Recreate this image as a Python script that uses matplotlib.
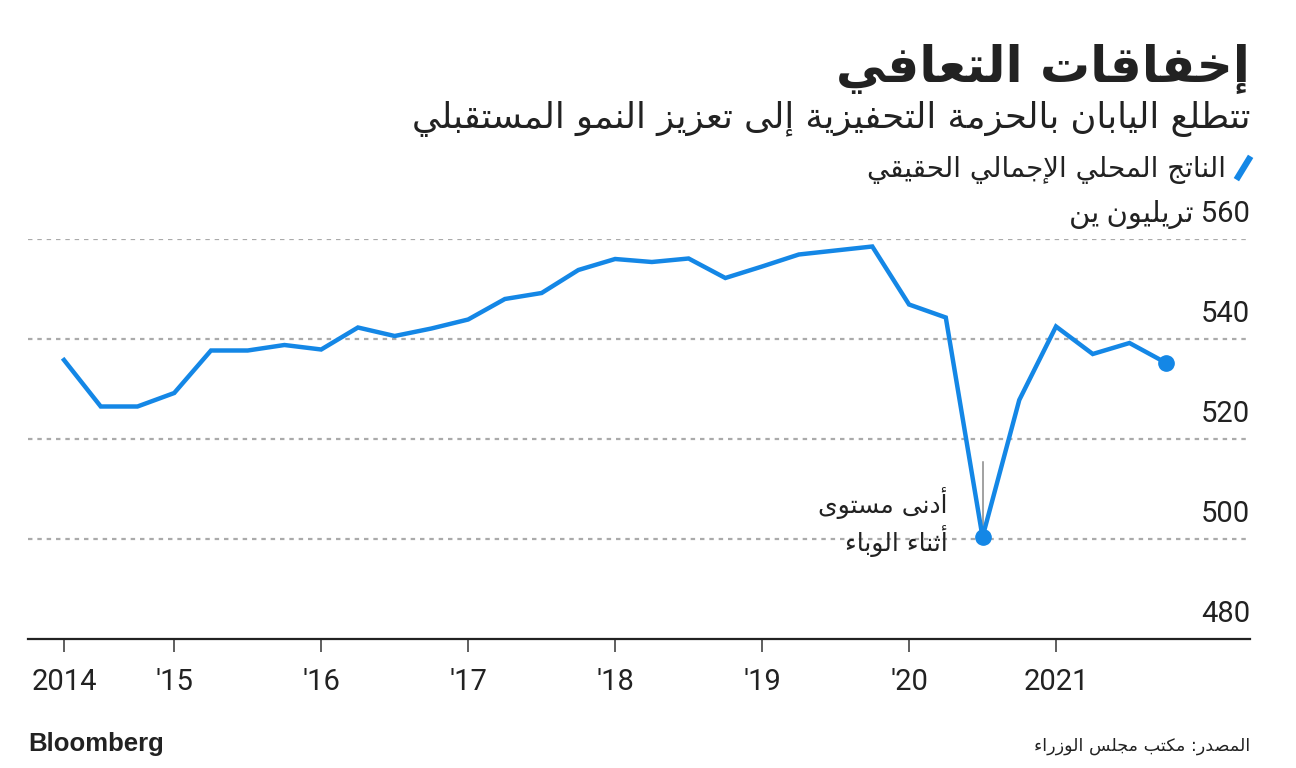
import re
import pandas as pd
import matplotlib
matplotlib.use("Agg")
import matplotlib.pyplot as plt

# real GDP, trillion yen, quarterly (plotted at quarter end)
quarters = pd.period_range("2014Q1", "2021Q3", freq="Q")
gdp = [535.8, 526.5, 526.5, 529.2, 537.7, 537.7, 538.8, 537.9,
       542.3, 540.6, 542.1, 543.9, 548.0, 549.2, 553.8, 556.0,
       555.4, 556.1, 552.2, 554.5, 556.9, 557.7, 558.5, 546.9,
       544.3, 500.4, 527.8, 542.5, 537.0, 539.2, 535.2]

xtick_pos = [2014.25, 2015, 2016, 2017, 2018, 2019, 2020, 2021]
xtick_labels = ["2014", "'15", "'16", "'17", "'18", "'19", "'20", "2021"]
yticks = [480, 500, 520, 540, 560]
ytick_labels = ["480", "500", "520", "540", "560 تريليون ين"]

title = "إخفاقات التعافي"
subtitle = "تتطلع اليابان بالحزمة التحفيزية إلى تعزيز النمو المستقبلي"
legend_label = "الناتج المحلي الإجمالي الحقيقي"
note_lines = ["أدنى مستوى", "أثناء الوباء"]
source = "المصدر: مكتب مجلس الوزراء"

BLUE = "#1487e6"
DARK = "#222222"
GRID = "#aaaaaa"

# --- tiny arabic shaper: matplotlib has no shaping/bidi of its own ---
# letter -> (isolated form code point, number of forms)
FORMS = {
    "ء": (0xFE80, 1), "آ": (0xFE81, 2), "أ": (0xFE83, 2), "ؤ": (0xFE85, 2),
    "إ": (0xFE87, 2), "ئ": (0xFE89, 4), "ا": (0xFE8D, 2), "ب": (0xFE8F, 4),
    "ة": (0xFE93, 2), "ت": (0xFE95, 4), "ث": (0xFE99, 4), "ج": (0xFE9D, 4),
    "ح": (0xFEA1, 4), "خ": (0xFEA5, 4), "د": (0xFEA9, 2), "ذ": (0xFEAB, 2),
    "ر": (0xFEAD, 2), "ز": (0xFEAF, 2), "س": (0xFEB1, 4), "ش": (0xFEB5, 4),
    "ص": (0xFEB9, 4), "ض": (0xFEBD, 4), "ط": (0xFEC1, 4), "ظ": (0xFEC5, 4),
    "ع": (0xFEC9, 4), "غ": (0xFECD, 4), "ف": (0xFED1, 4), "ق": (0xFED5, 4),
    "ك": (0xFED9, 4), "ل": (0xFEDD, 4), "م": (0xFEE1, 4), "ن": (0xFEE5, 4),
    "ه": (0xFEE9, 4), "و": (0xFEED, 2), "ى": (0xFEEF, 2), "ي": (0xFEF1, 4),
}
LAMALEF = {"آ": 0xFEF5, "أ": 0xFEF7, "إ": 0xFEF9, "ا": 0xFEFB}


def shape(txt):
    def dual(c):
        return c in FORMS and FORMS[c][1] == 4

    def joins(c):
        return c in FORMS and FORMS[c][1] > 1

    res = []
    i = 0
    while i < len(txt):
        c = txt[i]
        if c not in FORMS:
            res.append(c)
            i += 1
            continue
        prev = txt[i - 1] if i > 0 else ""
        nxt = txt[i + 1] if i + 1 < len(txt) else ""
        link_prev = dual(prev) and joins(c)
        if c == "ل" and nxt in LAMALEF:
            res.append(chr(LAMALEF[nxt] + (1 if link_prev else 0)))
            i += 2
            continue
        link_next = dual(c) and joins(nxt)
        base = FORMS[c][0]
        if link_prev and link_next:
            res.append(chr(base + 3))
        elif link_next:
            res.append(chr(base + 2))
        elif link_prev:
            res.append(chr(base + 1))
        else:
            res.append(chr(base))
        i += 1
    return "".join(res)


def ar(txt):
    s = shape(txt)[::-1]
    return re.sub(r"[0-9.,]+", lambda m: m.group(0)[::-1], s)


NUMFONT = ["Roboto", "DejaVu Sans"]
ARFONT = ["DejaVu Sans"]

fig = plt.figure(figsize=(12.96, 7.68), dpi=100)
ax = fig.add_axes([28 / 1296, 1 - 639 / 768, (1250 - 28) / 1296, 400 / 768])

x = [p.year + p.quarter / 4 for p in quarters]
ax.plot(x, gdp, color=BLUE, lw=3.2, solid_joinstyle="miter", clip_on=False, zorder=3)
ax.plot(x[-1], gdp[-1], "o", color=BLUE, ms=11, zorder=4, clip_on=False)
trough = gdp.index(min(gdp))
ax.plot(x[trough], gdp[trough], "o", color=BLUE, ms=11, zorder=4, clip_on=False)
ax.plot([x[trough], x[trough]], [gdp[trough], 515.4], color="#888888", lw=1.1, zorder=2)

ax.set_xlim(2014.005, 2022.32)
ax.set_ylim(480, 560)

for v in yticks[1:]:
    ax.axhline(v, color=GRID, lw=1.6, ls=(0, (2, 2.2)), zorder=1)
for v, lab in zip(yticks, ytick_labels):
    ax.annotate(ar(lab), xy=(1, v), xycoords=("axes fraction", "data"),
                xytext=(0, 12), textcoords="offset points", ha="right", va="baseline",
                fontsize=21, color=DARK, family=NUMFONT)

for s in ["top", "right", "left"]:
    ax.spines[s].set_visible(False)
ax.spines["bottom"].set_color(DARK)
ax.spines["bottom"].set_linewidth(1.6)
ax.set_yticks([])
ax.set_xticks(xtick_pos)
ax.set_xticklabels(xtick_labels, family=NUMFONT, fontsize=21, color=DARK)
ax.tick_params(axis="x", direction="out", length=9, width=1.2, color="#444444", pad=12)

# annotation for the pandemic low
note_x = 2014.25 + (948 - 64) / 147
ax.text(note_x, 505.2, ar(note_lines[0]), ha="right", va="baseline",
        fontsize=18, color=DARK, family=ARFONT)
ax.text(note_x, 497.6, ar(note_lines[1]), ha="right", va="baseline",
        fontsize=18, color=DARK, family=ARFONT)

# header
R = 1250 / 1296
fig.text(R, 1 - 82 / 768, ar(title), ha="right", va="baseline",
         fontsize=36, fontweight="bold", color=DARK, family=ARFONT)
fig.text(R, 1 - 128 / 768, ar(subtitle), ha="right", va="baseline",
         fontsize=25.5, color=DARK, family=ARFONT)
fig.text(1226 / 1296, 1 - 177 / 768, ar(legend_label), ha="right", va="baseline",
         fontsize=20, color=DARK, family=ARFONT)
fig.add_artist(plt.Line2D([1238 / 1296, 1249 / 1296], [1 - 177 / 768, 1 - 159 / 768],
                          color=BLUE, lw=4.5, transform=fig.transFigure))

# footer
fig.text(28 / 1296, 1 - 751 / 768, "Bloomberg", ha="left", va="baseline",
         fontsize=18.5, fontweight="bold", color=DARK, family=["Liberation Sans", "DejaVu Sans"])
fig.text(R, 1 - 751 / 768, ar(source), ha="right", va="baseline",
         fontsize=12.6, color=DARK, family=ARFONT)

fig.savefig("out.png", dpi=100, facecolor="white")
